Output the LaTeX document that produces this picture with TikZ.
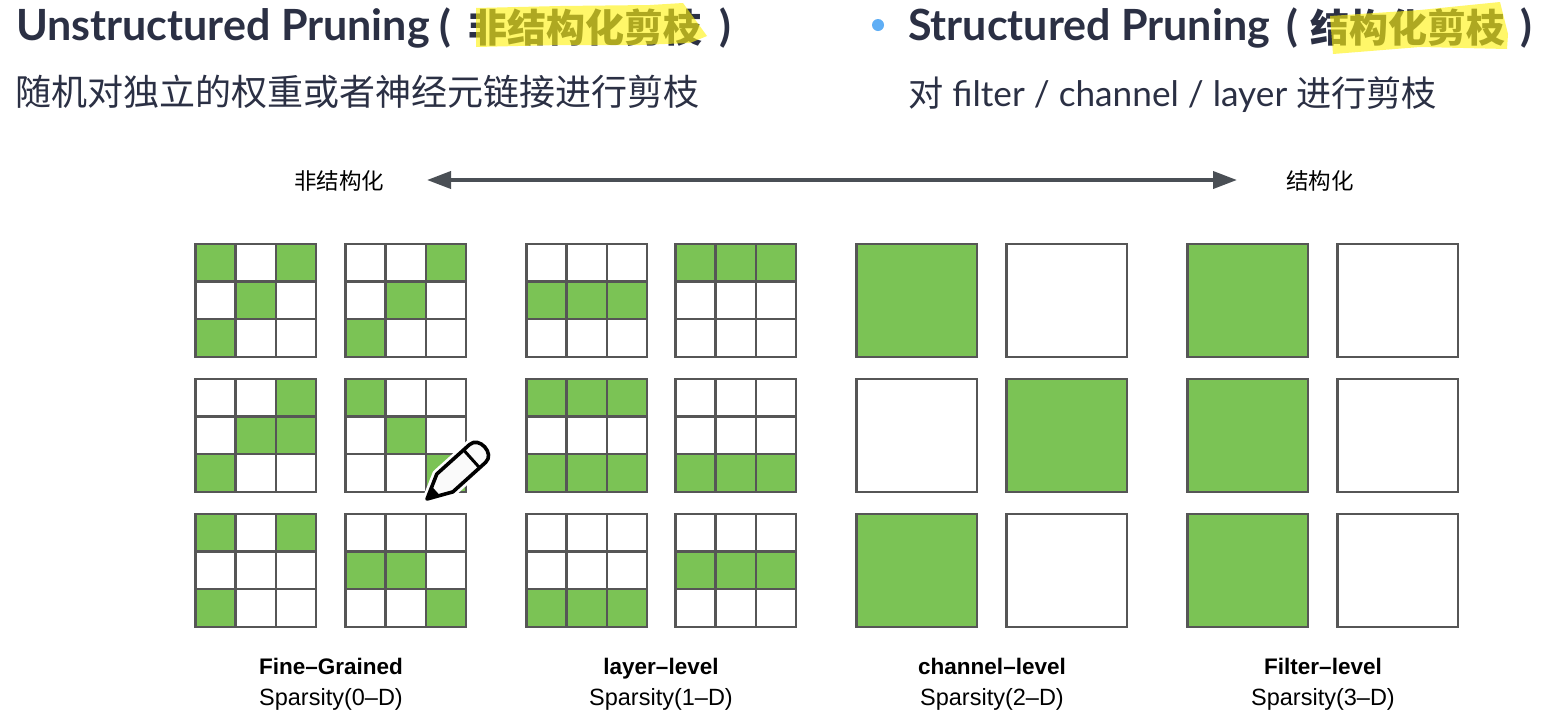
\documentclass[tikz,border=0pt]{standalone}
\usepackage{fontspec}
\setmainfont{Lato}
\newfontfamily\cjk{Noto Sans CJK SC}
\newfontfamily\capfont{Liberation Sans}
\usetikzlibrary{arrows.meta}
\definecolor{ink}{HTML}{2B3044}
\definecolor{cellgreen}{HTML}{7BC355}
\definecolor{gridline}{HTML}{565656}
\definecolor{arrowgrey}{HTML}{4A4F55}
\definecolor{bullet}{HTML}{5FAEF5}
\tikzset{
  titletext/.style={anchor=west,inner sep=0pt,text=ink,font=\fontsize{43}{43}\selectfont\bfseries},
  titlecjk/.style={anchor=west,inner sep=0pt,text=ink,font=\fontsize{39}{39}\selectfont\cjk\bfseries},
  subtext/.style={anchor=west,inner sep=0pt,text=ink},
  endtext/.style={inner sep=0pt,text=black,font=\fontsize{22.5}{22.5}\selectfont\cjk},
  capa/.style={anchor=base,inner sep=0pt,text=black,font=\capfont\fontsize{22.5}{22.5}\selectfont\bfseries},
  capb/.style={anchor=base,inner sep=0pt,text=black,font=\capfont\fontsize{23.5}{23.5}\selectfont},
  hl/.style={fill=yellow!95!white,opacity=.62,line join=round},
  gridl/.style={draw=gridline,line width=2.4pt},
  cellfill/.style={fill=cellgreen}
}
% \smallgrid{x}{y}{list of row/col cells that are green}
\newcommand{\smallgrid}[3]{%
  \begin{scope}[shift={(#1+0.4,#2+0.8)}]
    \foreach \r/\c in {#3}{\fill[cellfill] ({(\c-1)*40.17},{(\r-1)*37.67}) rectangle ++(40.17,37.67);}
    \draw[gridl] (0,0) rectangle (120.5,113);
    \draw[gridl] (40.17,0)--(40.17,113) (80.33,0)--(80.33,113) (0,37.67)--(120.5,37.67) (0,75.33)--(120.5,75.33);
  \end{scope}}
% \biggrid{x}{y}{fill colour}
\newcommand{\biggrid}[3]{%
  \draw[gridl,fill=#3] (#1+0.4,#2+0.8) rectangle ++(120.5,113);}
\begin{document}
\begin{tikzpicture}[x=1pt,y=-1pt]
\useasboundingbox[fill=white] (0,0) rectangle (1568,724);

% headings
\node[titletext] (t1) at (16,28) {Unstructured Pruning};
\node[titletext] (t1o) at (439,28) {(};
\node[titlecjk] (t1c) at (468,28) {非结构化剪枝};
\node[titletext] (t1e) at (719,28) {)};
\node[subtext,font=\fontsize{36}{36}\selectfont\cjk] (s1) at (15,92) {随机对独立的权重或者神经元链接进行剪枝};
\fill[bullet] (878,25) circle (6);
\node[titletext] (t2) at (908,28) {Structured Pruning};
\node[titletext] (t2o) at (1286,28) {(};
\node[titlecjk] (t2c) at (1310,28) {结构化剪枝};
\node[titletext] (t2e) at (1520,28) {)};
\node[subtext,font=\fontsize{35.2}{36}\selectfont] (s2) at (908,95) {{\cjk 对} filter / channel / layer {\cjk 进行剪枝}};

% marker strokes
\fill[hl] (476,8)--(560,6)--(650,5)--(683,3)--(707,36)--(690,43)--(640,45)--(560,45)--(476,47)--cycle;
\fill[hl] (1330,16)--(1420,10)--(1500,2)--(1508,34)--(1507,49)--(1420,47)--(1333,54)--cycle;

% axis
\node[endtext] (left) at (339,181) {非结构化};
\node[endtext] (right) at (1320,181) {结构化};
\coordinate (al) at (427,180);
\coordinate (ar) at (1237,180);
\draw[arrowgrey,line width=3.8pt,{Triangle[length=24pt,width=17pt]}-{Triangle[length=24pt,width=17pt]}] (al) -- (ar);

% fine grained
\smallgrid{195}{243}{1/1,1/3,2/2,3/1}
\smallgrid{345}{243}{1/3,2/2,3/1}
\smallgrid{195}{378}{1/3,2/2,2/3,3/1}
\smallgrid{345}{378}{1/1,2/2,3/3}
\smallgrid{195}{513}{1/1,1/3,3/1}
\smallgrid{345}{513}{2/1,2/2,3/3}
% layer level
\smallgrid{526}{243}{2/1,2/2,2/3}
\smallgrid{675}{243}{1/1,1/2,1/3}
\smallgrid{526}{378}{1/1,1/2,1/3,3/1,3/2,3/3}
\smallgrid{675}{378}{3/1,3/2,3/3}
\smallgrid{526}{513}{3/1,3/2,3/3}
\smallgrid{675}{513}{2/1,2/2,2/3}
% channel level
\biggrid{856}{243}{cellgreen}
\biggrid{1006}{243}{white}
\biggrid{856}{378}{white}
\biggrid{1006}{378}{cellgreen}
\biggrid{856}{513}{cellgreen}
\biggrid{1006}{513}{white}
% filter level
\biggrid{1187}{243}{cellgreen}
\biggrid{1337}{243}{white}
\biggrid{1187}{378}{cellgreen}
\biggrid{1337}{378}{white}
\biggrid{1187}{513}{cellgreen}
\biggrid{1337}{513}{white}

% captions
\node[capa] (c1a) at (331,674) {Fine–Grained};
\node[capb] (c1b) at (331,705.5) {Sparsity(0–D)};
\node[capa] (c2a) at (661,674) {layer–level};
\node[capb] (c2b) at (661,705.5) {Sparsity(1–D)};
\node[capa] (c3a) at (992,674) {channel–level};
\node[capb] (c3b) at (992,705.5) {Sparsity(2–D)};
\node[capa] (c4a) at (1323,674) {Filter–level};
\node[capb] (c4b) at (1323,705.5) {Sparsity(3–D)};

% pencil cursor
\begin{scope}[shift={(427,499)},rotate=42]
  \draw[white,line width=9pt,line join=round,fill=white] (0,0)--(24,-12)--(68,-12) .. controls (81,-12) and (81,12) .. (68,12)--(24,12)--cycle;
  \draw[black,line width=3.6pt,line join=round,fill=white!96!gray] (0,0)--(24,-12)--(68,-12) .. controls (81,-12) and (81,12) .. (68,12)--(24,12)--cycle;
  \fill[black] (0,0)--(12,-6)--(12,6)--cycle;
  \draw[black,line width=3pt] (60,-12)--(60,12);
\end{scope}
\end{tikzpicture}
\end{document}
